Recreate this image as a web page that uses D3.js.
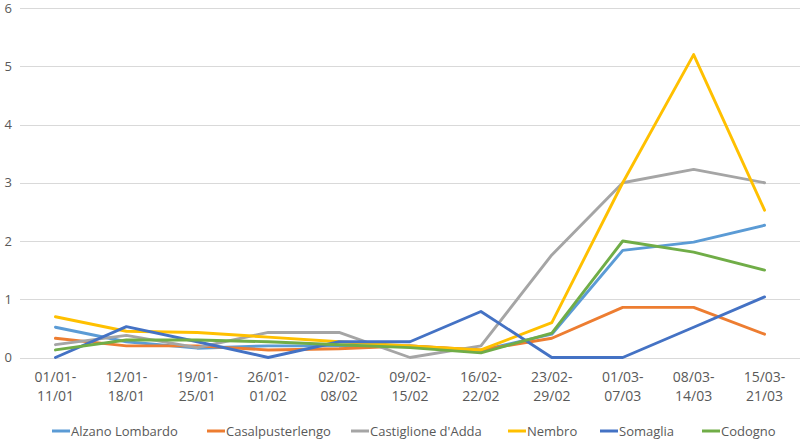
<!DOCTYPE html>
<html>
<head>
    <meta charset="utf-8">
    <title>Line chart</title>
    <style>
        body { margin: 0; background: #fff; }
        text { font-family: "Open Sans", sans-serif; fill: #595959; }
        .grid line { stroke: #d9d9d9; stroke-width: 1.2px; }
        .series { fill: none; stroke-width: 2.9px; stroke-linejoin: round; stroke-linecap: round; }
    </style>
</head>
<body>
    <svg width="800" height="442"></svg>
    <script src="https://cdn.jsdelivr.net/npm/d3@7"></script>
    <script>
        // week ranges (two-line labels)
        const weeks = ["01/01-11/01", "12/01-18/01", "19/01-25/01", "26/01-01/02", "02/02-08/02",
            "09/02-15/02", "16/02-22/02", "23/02-29/02", "01/03-07/03", "08/03-14/03", "15/03-21/03"];

        const yTicks = [0, 1, 2, 3, 4, 5, 6];

        const seriesNames = ["Alzano Lombardo", "Casalpusterlengo", "Castiglione d'Adda", "Nembro", "Somaglia", "Codogno"];
        const seriesColors = ["#5b9bd5", "#ed7d31", "#a5a5a5", "#ffc000", "#4472c4", "#70ad47"];

        const alzano = [0.52, 0.27, 0.16, 0.2, 0.2, 0.2, 0.12, 0.4, 1.84, 1.98, 2.27];
        const casalpusterlengo = [0.33, 0.2, 0.2, 0.13, 0.15, 0.2, 0.13, 0.33, 0.86, 0.86, 0.4];
        const castiglione = [0.22, 0.38, 0.17, 0.43, 0.43, 0.0, 0.2, 1.76, 3.0, 3.23, 3.0];
        const nembro = [0.7, 0.45, 0.43, 0.35, 0.27, 0.2, 0.13, 0.6, 3.0, 5.2, 2.53];
        const somaglia = [0.0, 0.53, 0.27, 0.0, 0.27, 0.27, 0.79, 0.0, 0.0, 0.52, 1.04];
        const codogno = [0.13, 0.3, 0.3, 0.27, 0.22, 0.17, 0.08, 0.42, 2.0, 1.81, 1.5];

        const allSeries = [alzano, casalpusterlengo, castiglione, nembro, somaglia, codogno];

        const svg = d3.select("svg");

        const x = d3.scalePoint()
            .domain(weeks)
            .range([20, 800])
            .padding(0.5);

        const y = d3.scaleLinear()
            .domain([0, 6])
            .range([357.5, 8]);

        // gridlines
        svg.append("g")
            .attr("class", "grid")
            .selectAll("line")
            .data(yTicks)
            .enter().append("line")
            .attr("x1", 20)
            .attr("x2", 800)
            .attr("y1", d => Math.round(y(d)) + 0.5)
            .attr("y2", d => Math.round(y(d)) + 0.5);

        // y labels
        svg.append("g")
            .selectAll("text")
            .data(yTicks)
            .enter().append("text")
            .attr("x", 12)
            .attr("y", d => y(d))
            .attr("dy", "0.35em")
            .attr("text-anchor", "end")
            .style("font-size", "13px")
            .text(d => d);

        // x labels, split on the dash
        const xl = svg.append("g")
            .selectAll("text")
            .data(weeks)
            .enter().append("text")
            .attr("text-anchor", "middle")
            .style("font-size", "14px");
        xl.append("tspan")
            .attr("x", d => x(d))
            .attr("y", 382)
            .text(d => d.split("-")[0] + "-");
        xl.append("tspan")
            .attr("x", d => x(d))
            .attr("y", 401)
            .text(d => d.split("-")[1]);

        // lines
        const line = d3.line()
            .x((d, i) => x(weeks[i]))
            .y(d => y(d));

        svg.append("g")
            .selectAll("path")
            .data(allSeries)
            .enter().append("path")
            .attr("class", "series")
            .attr("stroke", (d, i) => seriesColors[i])
            .attr("d", line);

        // legend (swatch positions as laid out in the original)
        const legendX = [52, 207, 351, 508, 600, 702];
        const legend = svg.append("g");
        seriesNames.forEach((name, i) => {
            const lx = legendX[i];
            legend.append("line")
                .attr("x1", lx)
                .attr("x2", lx + 18)
                .attr("y1", 431)
                .attr("y2", 431)
                .attr("stroke", seriesColors[i])
                .attr("stroke-width", 3);
            legend.append("text")
                .attr("x", lx + 19)
                .attr("y", 436)
                .style("font-size", "13px")
                .text(name);
        });
    </script>
</body>
</html>
